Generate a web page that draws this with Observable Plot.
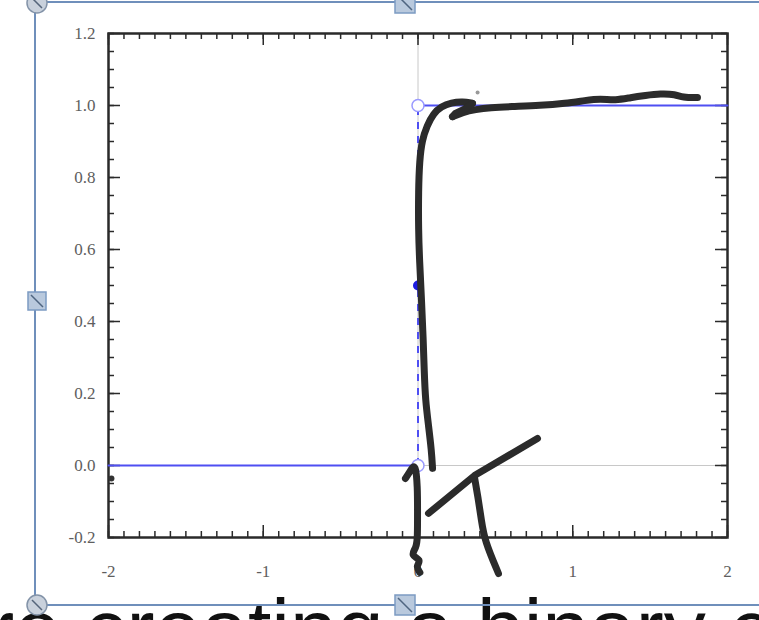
<!DOCTYPE html>
<html>
<head>
<meta charset="utf-8">
<script src="https://cdn.jsdelivr.net/npm/d3@7"></script>
<script src="https://cdn.jsdelivr.net/npm/@observablehq/plot@0.6"></script>
<style>
  html, body { margin: 0; padding: 0; background: #fff; overflow: hidden; }
  #wrap { position: relative; width: 759px; height: 620px; overflow: hidden; }
  #wrap > svg { position: absolute; left: 0; top: 0; }
  #deco { position: absolute; left: 0; top: 0; pointer-events: none; }
</style>
</head>
<body>
<div id="wrap"></div>
<script>
// ---- data ----
const xDomain = [-2, 2];
const yDomain = [-0.2, 1.2];
const xMajorTicks = [-2, -1, 0, 1, 2];
const xTickLabels = ["-2", "-1", "0", "1", "2"];
const yMajorTicks = [-0.2, 0, 0.2, 0.4, 0.6, 0.8, 1.0, 1.2];
const yTickLabels = ["-0.2", "0.0", "0.2", "0.4", "0.6", "0.8", "1.0", "1.2"];
const xMinorTicks = d3.range(-20, 21).map(i => i / 10);
const yMinorTicks = d3.range(-4, 25).map(i => i / 20);

// step function (blue)
const stepLowX = [-2, 0];
const stepLowY = [0, 0];
const stepHighX = [0, 2];
const stepHighY = [1, 1];
const openPointsX = [0, 0];
const openPointsY = [1, 0];
const midPointX = [0];
const midPointY = [0.5];

// hand-drawn sigmoid sketch
const sketchCurveX = [0.094, 0.087, 0.068, 0.048, 0.040, 0.034, 0.023, 0.010, 0.003, 0.003, 0.010, 0.026, 0.058, 0.100, 0.150, 0.215, 0.290, 0.352];
const sketchCurveY = [-0.008, 0.042, 0.111, 0.181, 0.264, 0.347, 0.458, 0.569, 0.653, 0.764, 0.847, 0.903, 0.944, 0.978, 0.997, 1.008, 1.011, 1.006];
const sketchHookX = [0.352, 0.300, 0.242, 0.223];
const sketchHookY = [1.006, 0.990, 0.978, 0.969];
const sketchTopX = [0.223, 0.288, 0.372, 0.468, 0.598, 0.792, 0.953, 1.082, 1.179, 1.276, 1.373, 1.470, 1.567, 1.664, 1.709, 1.806];
const sketchTopY = [0.969, 0.981, 0.989, 0.994, 0.997, 1.000, 1.006, 1.014, 1.019, 1.014, 1.022, 1.028, 1.033, 1.031, 1.022, 1.022];
// "1" scribble
const sketchOneX = [-0.081, -0.048, -0.016, -0.003, -0.003, -0.003, -0.010, -0.050, 0.025, -0.015, 0.012];
const sketchOneY = [-0.036, -0.014, 0.008, -0.061, -0.125, -0.200, -0.228, -0.250, -0.262, -0.280, -0.297];
// "T" scribble
const sketchTBarX = [0.068, 0.365, 0.772];
const sketchTBarY = [-0.133, -0.028, 0.075];
const sketchTStemX = [0.365, 0.391, 0.410, 0.430, 0.520];
const sketchTStemY = [-0.033, -0.097, -0.153, -0.208, -0.300];
const strayDotX = [-1.981];
const strayDotY = [-0.036];
const faintDotX = [0.385];
const faintDotY = [1.036];

// ---- build ----
const W = 759, H = 620;
const mL = 108, mR = 32, mT = 33, mB = 83;
const innerW = W - mL - mR, innerH = H - mT - mB;
const minorLen = 6, majorLen = 12;

const pts = (xs, ys, name) => xs.map((x, i) => ({x, y: ys[i], s: name}));
const sketchSmooth = [
  ...pts(sketchCurveX, sketchCurveY, "curve"),
  ...pts(sketchTopX, sketchTopY, "top"),
  ...pts(sketchOneX, sketchOneY, "one"),
  ...pts(sketchTStemX, sketchTStemY, "tstem")
];
const sketchStraight = [
  ...pts(sketchHookX, sketchHookY, "hook"),
  ...pts(sketchTBarX, sketchTBarY, "tbar")
];
const stepLines = [...pts(stepLowX, stepLowY, "low"), ...pts(stepHighX, stepHighY, "high")];

const blue = "#4f4ff2";
const axisColor = "#2a2a2a";
const ink = "#2b2b2b";
const labelFont = "'Liberation Serif', 'DejaVu Serif', serif";
const labelColor = "#5e5e5e";

const chart = Plot.plot({
  width: W, height: H,
  marginLeft: mL, marginRight: mR, marginTop: mT, marginBottom: mB,
  x: {domain: xDomain, axis: null},
  y: {domain: yDomain, axis: null},
  style: {background: "#fff", fontFamily: labelFont, color: labelColor, overflow: "visible"},
  marks: [
    Plot.ruleX([0], {stroke: "#c8c8c8", strokeWidth: 1}),
    Plot.ruleY([0], {stroke: "#c8c8c8", strokeWidth: 1}),
    Plot.tickX(xMinorTicks, {x: d => d, insetTop: innerH - minorLen, stroke: axisColor, strokeWidth: 1.5}),
    Plot.tickX(xMinorTicks, {x: d => d, insetBottom: innerH - minorLen, stroke: axisColor, strokeWidth: 1.5}),
    Plot.tickY(yMinorTicks, {y: d => d, insetRight: innerW - minorLen, stroke: axisColor, strokeWidth: 1.5}),
    Plot.tickY(yMinorTicks, {y: d => d, insetLeft: innerW - minorLen, stroke: axisColor, strokeWidth: 1.5}),
    Plot.tickX(xMajorTicks, {x: d => d, insetTop: innerH - majorLen, stroke: axisColor, strokeWidth: 1.5}),
    Plot.tickX(xMajorTicks, {x: d => d, insetBottom: innerH - majorLen, stroke: axisColor, strokeWidth: 1.5}),
    Plot.tickY(yMajorTicks, {y: d => d, insetRight: innerW - majorLen, stroke: axisColor, strokeWidth: 1.5}),
    Plot.tickY(yMajorTicks, {y: d => d, insetLeft: innerW - majorLen, stroke: axisColor, strokeWidth: 1.5}),
    Plot.frame({stroke: axisColor, strokeWidth: 2.5}),
    Plot.text(xMajorTicks, {x: d => d, y: yDomain[0], dy: 34, text: (d, i) => xTickLabels[i], fill: labelColor, fontSize: 17, fontFamily: labelFont}),
    Plot.text(yMajorTicks, {x: xDomain[0], y: d => d, dx: -13, textAnchor: "end", text: (d, i) => yTickLabels[i], fill: labelColor, fontSize: 17, fontFamily: labelFont}),
    Plot.line(stepLines, {x: "x", y: "y", z: "s", stroke: blue, strokeWidth: 2}),
    Plot.ruleX([0], {y1: 0, y2: 1, stroke: blue, strokeWidth: 2, strokeDasharray: "7,7"}),
    Plot.dot(pts(openPointsX, openPointsY, "open"), {x: "x", y: "y", r: 6, fill: "#fff", stroke: "#9a9aff", strokeWidth: 1.5}),
    Plot.dot(pts(midPointX, midPointY, "mid"), {x: "x", y: "y", r: 5, fill: "#1c1ce0"}),
    Plot.line(sketchSmooth, {x: "x", y: "y", z: "s", stroke: ink, strokeWidth: 7, strokeLinecap: "round", strokeLinejoin: "round", curve: "basis"}),
    Plot.line(sketchStraight, {x: "x", y: "y", z: "s", stroke: ink, strokeWidth: 7, strokeLinecap: "round", strokeLinejoin: "round", curve: "linear"}),
    Plot.dot(pts(strayDotX, strayDotY, "d"), {x: "x", y: "y", r: 3, fill: "#333"}),
    Plot.dot(pts(faintDotX, faintDotY, "f"), {x: "x", y: "y", r: 2, fill: "#999"})
  ]
});
document.getElementById("wrap").appendChild(chart);

// ---- editor decoration overlay (selection frame, surrounding text) ----
const deco = d3.select("#wrap").append("svg").attr("id", "deco").attr("width", W).attr("height", H);
const bodyText = "are creating a binary classifier";
const txt = deco.append("text").attr("x", 0).attr("y", 659)
  .attr("font-family", "'Liberation Sans', Arial, sans-serif").attr("font-size", 84).attr("fill", "#111")
  .text(bodyText);
// align the glyphs with the reference: 't' stem near x=258, 'b' stem near x=483
(function align() {
  const node = txt.node();
  const it = bodyText.indexOf("t"), ib = bodyText.indexOf("b");
  let f = 84;
  const d0 = node.getStartPositionOfChar(ib).x - node.getStartPositionOfChar(it).x;
  if (d0 > 0) f = Math.max(74, Math.min(96, 84 * 229 / d0));
  txt.attr("font-size", f);
  const xt = node.getStartPositionOfChar(it).x;
  txt.attr("x", 258 - 0.12 * f - xt);
  txt.attr("y", 614 + 0.519 * f);
})();
deco.append("text").attr("x", 392).attr("y", -6)
  .attr("font-family", "'Liberation Sans', Arial, sans-serif").attr("font-size", 84).attr("fill", "#111")
  .text(",");
const lineC = "#6f8fbb";
deco.append("line").attr("x1", 35).attr("y1", 2).attr("x2", 759).attr("y2", 2).attr("stroke", lineC).attr("stroke-width", 2);
deco.append("line").attr("x1", 35).attr("y1", 605).attr("x2", 759).attr("y2", 605).attr("stroke", lineC).attr("stroke-width", 2);
deco.append("line").attr("x1", 35).attr("y1", 2).attr("x2", 35).attr("y2", 605).attr("stroke", lineC).attr("stroke-width", 2);
function roundHandle(cx, cy) {
  deco.append("circle").attr("cx", cx).attr("cy", cy).attr("r", 10).attr("fill", "#c9d1dc").attr("stroke", "#8393a8").attr("stroke-width", 1.5);
  deco.append("line").attr("x1", cx - 5).attr("y1", cy - 5).attr("x2", cx + 5).attr("y2", cy + 5).attr("stroke", "#55657a").attr("stroke-width", 1.5);
}
function squareHandle(cx, cy, s) {
  deco.append("rect").attr("x", cx - s / 2).attr("y", cy - s / 2).attr("width", s).attr("height", s).attr("fill", "#b9c9dd").attr("stroke", "#7c9bc2").attr("stroke-width", 1.5);
  deco.append("line").attr("x1", cx - s / 2 + 3).attr("y1", cy - s / 2 + 3).attr("x2", cx + s / 2 - 3).attr("y2", cy + s / 2 - 3).attr("stroke", "#4f6580").attr("stroke-width", 1.5);
}
roundHandle(37, 3);
roundHandle(37, 605);
squareHandle(405, 3, 20);
squareHandle(37, 301, 18);
squareHandle(405, 605, 20);
</script>
</body>
</html>
